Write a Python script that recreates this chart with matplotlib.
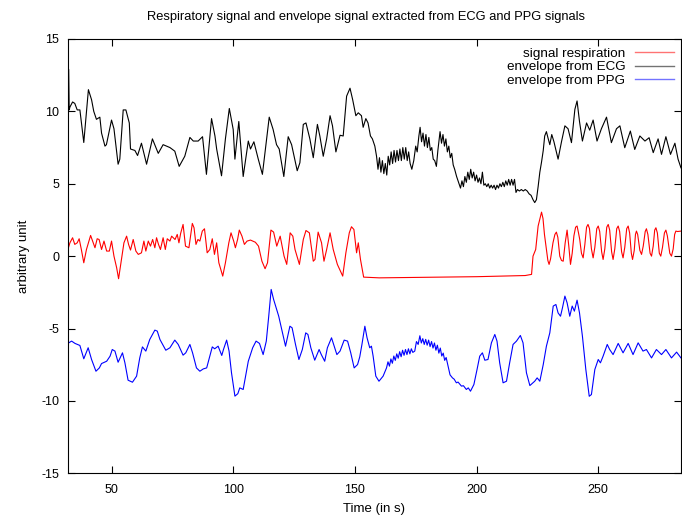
import matplotlib
matplotlib.use("Agg")
import matplotlib.pyplot as plt

# Courbes : (temps en s, valeur)
ecg = [(32.0, 10.2), (32.4, 12.9), (32.6, 10.1), (32.9, 10.3), (34.0, 10.65), (34.9, 10.55), (35.9, 10.1),
       (37.0, 10.1), (38.6, 7.85), (40.5, 11.5), (41.8, 10.8), (42.7, 10.0), (43.8, 9.45),
       (45.2, 9.6), (45.9, 8.5), (47.3, 7.6), (47.9, 7.7), (50.0, 9.4), (51.0, 8.8),
       (52.7, 6.35), (53.4, 6.7), (54.8, 10.1), (55.9, 10.1), (57.3, 9.2), (57.8, 7.4),
       (59.6, 7.3), (60.7, 6.95), (62.3, 7.8), (64.4, 6.35), (66.8, 8.1), (69.2, 7.1),
       (71.2, 7.7), (74.0, 7.5), (76.0, 7.25), (77.8, 6.2), (80.1, 6.9), (82.2, 8.2),
       (83.6, 7.95), (85.6, 7.95), (87.4, 8.25), (89.0, 5.65), (91.1, 9.5), (92.5, 8.3),
       (93.2, 7.4), (95.2, 5.55), (96.8, 8.1), (98.4, 10.2), (100.0, 8.75), (100.7, 6.7),
       (102.3, 9.3), (104.1, 5.5), (106.2, 7.95), (107.1, 7.4), (108.5, 7.9), (110.3, 6.7),
       (112.0, 5.65), (114.8, 9.6), (116.4, 8.75), (117.8, 7.7), (118.9, 7.4), (120.8, 5.5),
       (122.6, 8.25), (124.0, 7.7), (124.7, 7.15), (126.3, 5.9), (127.4, 6.45), (128.8, 9.1),
       (129.9, 9.2), (131.5, 8.1), (132.9, 6.8), (134.6, 9.1), (135.6, 8.3), (137.0, 6.9),
       (138.4, 8.1), (139.8, 9.7), (140.8, 9.0), (142.2, 7.2), (143.9, 8.35), (145.2, 8.3),
       (146.6, 11.05), (148.0, 11.6), (149.1, 10.8), (150.4, 9.7), (151.4, 9.9), (152.7, 9.7),
       (153.4, 8.9), (154.5, 9.5), (155.4, 9.2), (156.4, 8.3), (157.2, 8.1), (158.2, 7.6),
       (158.9, 6.9), (159.5, 6.0), (160.1, 6.8), (160.7, 5.8), (161.3, 6.6), (161.9, 5.7),
       (162.5, 6.4), (163.1, 5.6), (163.7, 6.9), (164.3, 6.3), (164.9, 7.2), (165.5, 6.4),
       (166.1, 7.3), (166.7, 6.5), (167.3, 7.3), (167.9, 6.6), (168.5, 7.4), (169.1, 6.6),
       (169.7, 7.5), (170.3, 6.7), (170.9, 7.5), (171.5, 6.6), (172.1, 7.2), (172.7, 6.4),
       (173.4, 6.0), (174.2, 6.6), (175.0, 7.6), (175.6, 7.2), (176.3, 8.3), (176.8, 8.9),
       (177.4, 7.9), (178.0, 8.5), (178.6, 7.6), (179.2, 8.4), (179.8, 7.5), (180.4, 8.2),
       (181.0, 7.3), (181.6, 7.5), (182.2, 6.7), (182.8, 6.6), (183.5, 6.2), (184.1, 7.3),
       (184.6, 8.0), (185.0, 8.6), (185.6, 7.8), (186.2, 8.4), (186.8, 7.6), (187.4, 8.1),
       (188.0, 7.2), (188.6, 7.6), (189.2, 6.8), (189.8, 7.1), (190.4, 6.3), (191.0, 6.0),
       (191.8, 5.5), (192.6, 5.1), (193.4, 4.7), (194.0, 5.2), (194.6, 4.8), (195.2, 5.5),
       (195.8, 5.1), (196.4, 5.8), (197.0, 5.3), (197.6, 6.0), (198.2, 5.4), (198.8, 5.8),
       (199.4, 5.2), (200.0, 5.6), (200.6, 5.1), (201.2, 5.4), (201.8, 5.0), (202.4, 5.8),
       (203.0, 4.9), (203.6, 5.0), (204.2, 4.8), (204.8, 5.0), (205.4, 4.7), (206.0, 4.9),
       (206.6, 4.7), (207.2, 4.9), (207.8, 4.6), (208.4, 4.9), (209.0, 4.7), (209.6, 5.0),
       (210.2, 4.8), (210.8, 5.1), (211.4, 4.8), (212.0, 5.2), (212.6, 4.9), (213.2, 5.3),
       (213.8, 4.9), (214.4, 5.3), (215.0, 4.9), (215.6, 5.3), (216.2, 4.4), (216.8, 4.6),
       (217.6, 4.5), (218.4, 4.6), (219.2, 4.5), (220.0, 4.6), (220.8, 4.5), (221.6, 4.3),
       (222.4, 4.2), (223.2, 3.9), (223.9, 3.7), (224.6, 3.9), (225.3, 4.8), (226.0, 5.8),
       (226.7, 6.5), (227.4, 7.3), (228.0, 8.3), (228.7, 8.6), (229.3, 8.2), (230.1, 7.7),
       (230.9, 8.4), (231.8, 7.9), (233.5, 6.7), (234.9, 7.9), (236.3, 9.0), (237.6, 8.8),
       (239.0, 7.84), (240.4, 10.14), (241.3, 10.72), (242.3, 9.3), (243.5, 7.95), (245.2, 9.2),
       (246.5, 8.7), (247.9, 9.4), (249.5, 7.95), (251.3, 8.8), (253.4, 9.6), (255.4, 7.84),
       (257.5, 8.8), (258.9, 9.0), (260.9, 7.49), (263.2, 8.64), (265.0, 7.37), (267.1, 8.3),
       (269.2, 7.95), (270.9, 8.18), (272.6, 7.15), (274.6, 8.1), (276.0, 7.03), (277.8, 8.25),
       (279.7, 7.03), (281.5, 7.8), (282.8, 6.7), (284.0, 6.1)]

resp = [(32.0, 0.42), (32.9, 0.92), (34.0, 1.27), (34.9, 0.81), (35.9, 0.92), (36.7, 1.2),
        (37.6, 0.46), (38.6, -0.46), (39.7, 0.46), (41.4, 1.43), (42.5, 0.92), (43.2, 0.58),
        (44.1, 1.2), (44.9, 1.15), (45.9, 0.46), (46.9, 1.04), (48.0, 0.35), (49.1, 0.35),
        (50.0, 1.04), (51.0, 0.0), (52.1, -0.8), (52.9, -1.56), (54.1, -0.23), (55.1, 0.92),
        (56.2, 1.38), (57.0, 0.81), (57.8, 0.42), (58.9, 1.15), (60.0, 0.35), (61.0, 0.12),
        (62.3, 0.23), (63.3, 1.04), (64.1, 0.35), (65.1, 1.04), (66.0, 0.69), (66.9, 1.15),
        (67.8, 0.58), (68.5, 1.27), (69.3, 0.81), (70.1, 0.46), (71.2, 1.27), (72.1, 0.46),
        (72.9, 1.2), (74.0, 1.04), (74.7, 1.38), (76.1, 1.15), (77.0, 1.5), (77.7, 0.92),
        (78.4, 1.57), (79.4, 2.19), (80.4, 0.69), (81.8, 0.58), (83.2, 2.26), (83.9, 1.96),
        (84.7, 0.81), (85.5, 1.15), (86.3, 1.04), (87.3, 1.73), (88.2, 1.89), (89.3, 0.23),
        (90.4, 0.46), (91.4, 1.2), (92.3, 0.12), (93.2, 0.92), (94.1, -0.46), (95.7, -1.38),
        (96.8, -0.46), (98.2, 0.92), (99.1, 1.61), (100.2, 1.04), (100.9, 0.58), (101.8, 1.15),
        (102.5, 1.8), (103.6, 1.38), (104.6, 0.81), (105.7, 1.04), (107.1, 1.11), (109.1, 0.96),
        (110.4, 0.69), (111.8, -0.35), (113.1, -0.87), (114.1, -0.46), (115.5, 1.8), (116.6, 1.66),
        (117.9, 0.69), (119.3, 1.38), (120.9, 0.0), (122.0, -0.57), (123.4, 1.61), (124.5, 1.38),
        (125.4, 0.46), (127.2, -0.57), (128.8, 1.15), (129.9, 1.77), (131.3, 1.61), (132.9, -0.35),
        (133.6, -0.23), (134.9, 1.66), (136.3, 0.92), (137.3, -0.35), (138.4, 0.46), (139.8, 1.61),
        (141.1, 0.46), (142.8, -0.57), (145.0, -1.38), (146.3, 0.23), (147.7, 1.61), (148.6, 2.03),
        (149.6, 1.84), (150.7, 0.23), (151.4, 0.92), (152.3, -0.23), (153.6, -1.45), (160.0, -1.5),
        (170.0, -1.48), (180.0, -1.46), (190.0, -1.44), (200.0, -1.42), (210.0, -1.38),
        (220.0, -1.34), (222.6, -1.26), (223.2, 0.0), (224.3, 0.46), (225.3, 2.08), (226.7, 3.04),
        (227.3, 2.6), (227.9, 1.5), (228.7, 0.46), (229.3, -0.3), (229.8, -0.57), (230.4, -0.2),
        (231.4, 0.92), (232.2, 1.5), (232.8, 1.66), (233.4, 1.3), (234.2, 0.0), (234.9, -0.3),
        (235.6, -0.35), (236.4, 0.9), (237.2, 1.8), (237.9, 0.7), (238.6, -0.57), (239.3, 0.2),
        (240.0, 1.4), (240.7, 2.0), (241.3, 2.08), (241.9, 1.6), (242.4, 1.15), (243.1, 0.2),
        (243.8, -0.12), (244.5, 0.8), (245.2, 2.0), (245.8, 2.19), (246.4, 1.9), (247.2, 0.5),
        (247.9, -0.12), (248.6, 0.6), (249.4, 1.9), (250.0, 2.08), (250.6, 1.7), (251.4, 0.3),
        (252.0, -0.23), (252.7, 0.5), (253.5, 2.0), (254.1, 2.19), (254.7, 1.8), (255.5, 0.3),
        (256.1, -0.23), (256.8, 0.5), (257.6, 1.9), (258.2, 2.08), (258.8, 1.7), (259.6, 0.3),
        (260.2, -0.12), (260.9, 0.6), (261.7, 1.9), (262.3, 2.08), (262.9, 1.6), (263.6, 0.2),
        (264.1, -0.23), (264.8, 0.4), (265.3, 1.5), (265.7, 1.73), (266.2, 1.5), (267.1, 0.4),
        (267.8, 0.12), (268.5, 0.7), (269.3, 1.7), (269.8, 1.89), (270.4, 1.5), (271.3, 0.2),
        (271.9, 0.0), (272.6, 0.7), (273.2, 1.8), (273.7, 1.96), (274.3, 1.6), (275.1, 0.2),
        (275.7, 0.0), (276.4, 0.6), (277.2, 1.6), (277.8, 1.8), (278.4, 1.4), (279.4, 0.2),
        (280.1, 0.0), (280.8, 0.5), (281.4, 1.5), (281.9, 1.73), (282.6, 1.7), (284.0, 1.73)]

ppg = [(32.0, -6.03), (33.6, -5.87), (35.0, -6.03), (37.0, -6.17), (38.6, -7.09), (40.4, -6.33),
       (41.8, -7.14), (43.6, -7.95), (45.0, -7.72), (45.9, -7.42), (48.0, -7.26), (49.4, -6.91),
       (50.3, -6.45), (51.4, -6.56), (52.7, -7.33), (54.5, -6.68), (55.5, -7.37), (56.8, -8.57),
       (58.6, -8.71), (60.3, -8.29), (61.6, -7.03), (62.7, -6.27), (64.1, -6.56), (65.7, -5.76),
       (67.8, -5.11), (68.8, -5.18), (69.9, -5.76), (72.3, -6.5), (74.0, -6.33), (76.0, -5.8),
       (77.4, -6.1), (79.4, -6.84), (80.5, -6.68), (82.2, -6.1), (83.3, -6.68), (84.9, -7.72),
       (86.3, -7.95), (87.7, -7.79), (89.1, -7.72), (90.4, -6.91), (91.4, -6.27), (92.4, -6.4),
       (93.8, -6.22), (95.3, -6.86), (96.0, -6.45), (97.3, -5.8), (98.3, -6.56), (99.3, -8.06),
       (100.7, -9.67), (101.9, -9.5), (102.7, -9.1), (104.1, -9.21), (106.2, -7.26), (108.0, -6.33),
       (109.4, -5.87), (110.8, -6.03), (112.3, -6.8), (113.6, -5.87), (114.6, -4.15), (115.6, -2.3),
       (116.6, -2.99), (118.7, -4.15), (120.1, -5.18), (121.5, -6.22), (123.3, -4.84), (124.2, -4.95),
       (125.6, -6.1), (127.0, -7.14), (128.4, -6.45), (129.8, -5.3), (130.7, -5.41), (131.9, -6.33),
       (133.5, -7.19), (135.3, -6.45), (136.2, -6.8), (137.6, -7.26), (138.7, -6.33), (140.4, -5.64),
       (141.5, -6.22), (142.6, -6.8), (143.9, -6.56), (145.6, -5.8), (147.0, -5.87), (148.3, -6.68),
       (149.7, -7.72), (151.1, -7.49), (152.0, -6.96), (152.9, -6.1), (154.1, -4.84), (155.0, -5.64),
       (156.1, -6.33), (156.8, -6.22), (157.5, -6.91), (158.6, -8.29), (159.9, -8.64), (161.6, -8.29),
       (163.0, -7.72), (163.6, -7.3), (164.2, -7.6), (164.8, -7.1), (165.4, -7.4), (166.0, -6.9),
       (166.6, -7.2), (167.2, -6.75), (167.8, -7.05), (168.4, -6.6), (169.0, -6.95), (169.6, -6.5),
       (170.2, -6.85), (170.8, -6.45), (171.4, -6.8), (172.0, -6.4), (172.6, -6.75), (173.2, -6.4),
       (173.8, -6.65), (174.6, -6.56), (175.3, -5.9), (176.0, -6.1), (176.7, -5.5), (177.3, -6.0),
       (177.9, -5.7), (178.5, -6.1), (179.1, -5.75), (179.7, -6.15), (180.3, -5.8), (180.9, -6.25),
       (181.5, -5.9), (182.1, -6.35), (182.7, -6.0), (183.3, -6.5), (183.9, -6.15), (184.5, -6.7),
       (185.1, -6.35), (185.7, -6.9), (186.3, -6.7), (186.9, -7.2), (187.5, -7.0), (188.3, -7.6),
       (189.1, -8.2), (190.1, -8.41), (190.8, -8.5), (191.7, -8.75), (192.4, -8.7), (193.8, -8.98),
       (194.6, -8.95), (195.8, -9.21), (196.6, -9.1), (197.5, -9.33), (198.9, -8.87), (200.2, -7.83),
       (201.3, -6.91), (202.4, -6.68), (203.4, -7.19), (204.7, -7.14), (206.1, -5.99), (207.5, -5.41),
       (208.4, -5.87), (209.5, -7.37), (210.9, -8.75), (212.3, -8.64), (213.6, -7.37), (215.0, -6.1),
       (216.4, -5.87), (218.0, -5.48), (219.1, -5.99), (220.5, -8.06), (221.9, -8.94), (223.9, -8.64),
       (224.9, -8.41), (226.0, -8.64), (227.4, -7.49), (228.7, -6.22), (230.1, -5.3), (231.5, -3.45),
       (232.6, -3.34), (233.5, -3.92), (234.5, -4.15), (235.3, -3.57), (236.3, -2.76), (237.2, -3.22),
       (238.3, -4.15), (239.3, -3.45), (240.2, -3.8), (241.3, -3.04), (242.3, -3.92), (243.5, -5.53),
       (244.9, -7.83), (246.3, -9.68), (247.2, -9.56), (248.6, -7.83), (250.0, -7.14), (250.9, -7.37),
       (252.0, -6.91), (253.7, -6.1), (254.7, -6.45), (256.1, -6.8), (258.2, -6.03), (260.2, -6.68),
       (262.3, -6.03), (264.3, -6.8), (266.4, -5.99), (268.4, -6.56), (269.8, -6.45), (271.9, -7.03),
       (273.9, -6.45), (276.0, -6.8), (277.8, -6.45), (280.1, -7.03), (282.2, -6.63), (284.0, -7.03)]

labels = ["signal respiration", "envelope from ECG", "envelope from PPG"]
couleurs = ["#ff0000", "#000000", "#0000ff"]

plt.rcParams['font.family'] = ['Liberation Sans', 'DejaVu Sans']
plt.rcParams['axes.unicode_minus'] = False

fig = plt.figure(figsize=(6.82, 5.15), dpi=100)
ax = fig.add_axes([0.0993, 0.081, 0.8992, 0.8433])

for serie, nom, c in zip([resp, ecg, ppg], labels, couleurs):
    t = [p[0] for p in serie]
    v = [p[1] for p in serie]
    ax.plot(t, v, color=c, lw=0.8, label=nom)

ax.set_xlim(32, 284)
ax.set_ylim(-15, 15)
ax.set_xticks([50, 100, 150, 200, 250])
ax.set_yticks([-15, -10, -5, 0, 5, 10, 15])
ax.tick_params(direction='in', length=5, width=0.8, labelsize=9,
               top=True, right=True)
ax.tick_params(axis='x', pad=8)
ax.tick_params(axis='y', pad=6)
for s in ax.spines.values():
    s.set_linewidth(0.8)

ax.set_xlabel('Time (in s)', fontsize=9.5, labelpad=5)
ax.set_ylabel('arbitrary unit', fontsize=9.5, labelpad=8)
fig.text(0.537, 0.967, 'Respiratory signal and envelope signal extracted from ECG and PPG signals',
         ha='center', va='center', fontsize=9.3)

leg = ax.legend(loc='upper right', bbox_to_anchor=(1.004, 1.003), frameon=False,
                markerfirst=False, fontsize=9.7, handlelength=2.9, handletextpad=0.7,
                labelspacing=0.1, borderpad=0.2)
for h in leg.get_lines():
    h.set_linewidth(1.0)
    h.set_alpha(0.55)

fig.savefig('out.png', dpi=100)
